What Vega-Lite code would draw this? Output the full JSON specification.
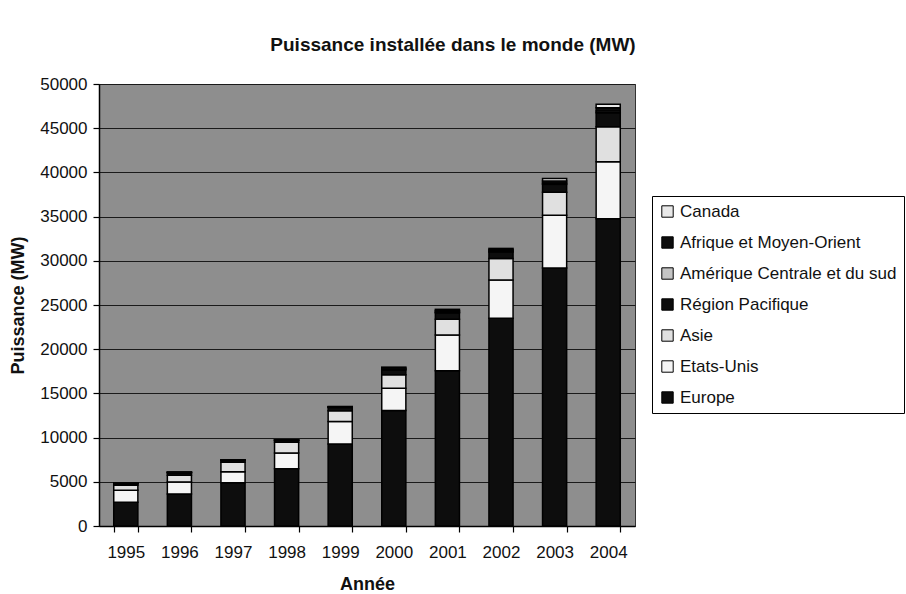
{
  "$schema": "https://vega.github.io/schema/vega-lite/v6.json",
  "width": 536,
  "height": 442,
  "autosize": {"type": "none"},
  "padding": {"left": 99, "top": 84, "right": 271, "bottom": 68},
  "background": "white",
  "title": {
    "text": "Puissance installée dans le monde (MW)",
    "font": "Liberation Sans",
    "fontSize": 19,
    "fontWeight": "bold",
    "color": "#111",
    "anchor": "middle",
    "frame": "group",
    "dx": 86,
    "offset": 20
  },
  "data": {
    "values": [
      {"annee": "1995", "Europe": 2690, "Etats-Unis": 1350, "Asie": 560, "Région Pacifique": 170, "Amérique Centrale et du sud": 30, "Afrique et Moyen-Orient": 40, "Canada": 40},
      {"annee": "1996", "Europe": 3630, "Etats-Unis": 1360, "Asie": 740, "Région Pacifique": 280, "Amérique Centrale et du sud": 40, "Afrique et Moyen-Orient": 40, "Canada": 30},
      {"annee": "1997", "Europe": 4880, "Etats-Unis": 1270, "Asie": 1050, "Région Pacifique": 220, "Amérique Centrale et du sud": 30, "Afrique et Moyen-Orient": 30, "Canada": 25},
      {"annee": "1998", "Europe": 6490, "Etats-Unis": 1770, "Asie": 1200, "Région Pacifique": 220, "Amérique Centrale et du sud": 30, "Afrique et Moyen-Orient": 30, "Canada": 20},
      {"annee": "1999", "Europe": 9280, "Etats-Unis": 2550, "Asie": 1210, "Région Pacifique": 370, "Amérique Centrale et du sud": 40, "Afrique et Moyen-Orient": 40, "Canada": 30},
      {"annee": "2000", "Europe": 13070, "Etats-Unis": 2510, "Asie": 1520, "Région Pacifique": 560, "Amérique Centrale et du sud": 80, "Afrique et Moyen-Orient": 120, "Canada": 110},
      {"annee": "2001", "Europe": 17550, "Etats-Unis": 4050, "Asie": 1790, "Région Pacifique": 720, "Amérique Centrale et du sud": 100, "Afrique et Moyen-Orient": 150, "Canada": 150},
      {"annee": "2002", "Europe": 23500, "Etats-Unis": 4320, "Asie": 2450, "Région Pacifique": 720, "Amérique Centrale et du sud": 120, "Afrique et Moyen-Orient": 150, "Canada": 140},
      {"annee": "2003", "Europe": 29180, "Etats-Unis": 5980, "Asie": 2590, "Région Pacifique": 900, "Amérique Centrale et du sud": 150, "Afrique et Moyen-Orient": 220, "Canada": 280},
      {"annee": "2004", "Europe": 34760, "Etats-Unis": 6440, "Asie": 3950, "Région Pacifique": 1600, "Amérique Centrale et du sud": 200, "Afrique et Moyen-Orient": 350, "Canada": 410}
    ]
  },
  "transform": [
    {"fold": ["Europe", "Etats-Unis", "Asie", "Région Pacifique", "Amérique Centrale et du sud", "Afrique et Moyen-Orient", "Canada"], "as": ["region", "puissance"]},
    {"calculate": "indexof(['Europe', 'Etats-Unis', 'Asie', 'Région Pacifique', 'Amérique Centrale et du sud', 'Afrique et Moyen-Orient', 'Canada'], datum.region)", "as": "rang"}
  ],
  "mark": {"type": "bar", "stroke": "#000", "strokeWidth": 1.5},
  "encoding": {
    "x": {
      "field": "annee",
      "type": "ordinal",
      "scale": {"paddingInner": 0.55, "paddingOuter": 0.275},
      "axis": {
        "title": "Année",
        "labelAngle": 0,
        "tickBand": "extent",
        "labelPadding": 12,
        "titlePadding": 15
      }
    },
    "y": {
      "field": "puissance",
      "type": "quantitative",
      "stack": "zero",
      "scale": {"domain": [0, 50000], "nice": false},
      "axis": {
        "title": "Puissance (MW)",
        "values": [0, 5000, 10000, 15000, 20000, 25000, 30000, 35000, 40000, 45000, 50000],
        "format": "d",
        "labelPadding": 6,
        "titlePadding": 12,
        "grid": true
      }
    },
    "color": {
      "field": "region",
      "type": "nominal",
      "scale": {
        "domain": ["Canada", "Afrique et Moyen-Orient", "Amérique Centrale et du sud", "Région Pacifique", "Asie", "Etats-Unis", "Europe"],
        "range": ["#e8e8e8", "#0d0d0d", "#c4c4c4", "#0d0d0d", "#e0e0e0", "#f5f5f5", "#0d0d0d"]
      },
      "legend": {
        "title": null,
        "orient": "none",
        "legendX": 553,
        "legendY": 112,
        "symbolType": "square",
        "symbolSize": 130,
        "symbolStrokeColor": "#000",
        "symbolStrokeWidth": 1,
        "labelLimit": 320,
        "labelOffset": 4,
        "rowPadding": 13,
        "padding": 7,
        "strokeColor": "#000",
        "fillColor": "white"
      }
    },
    "order": {"field": "rang", "type": "quantitative"}
  },
  "config": {
    "font": "Liberation Sans",
    "view": {"fill": "#8e8e8e", "stroke": "#333", "strokeWidth": 1},
    "axis": {
      "labelFont": "Liberation Sans",
      "labelFontSize": 17,
      "labelColor": "#111",
      "titleFont": "Liberation Sans",
      "titleFontSize": 18,
      "titleFontWeight": "bold",
      "titleColor": "#111",
      "domainColor": "#000",
      "domainWidth": 1.5,
      "tickColor": "#000",
      "tickSize": 6,
      "tickWidth": 1.2,
      "gridColor": "#1a1a1a",
      "gridWidth": 1.2,
      "gridOpacity": 1
    },
    "legend": {
      "labelFont": "Liberation Sans",
      "labelFontSize": 17,
      "labelColor": "#111"
    }
  }
}
